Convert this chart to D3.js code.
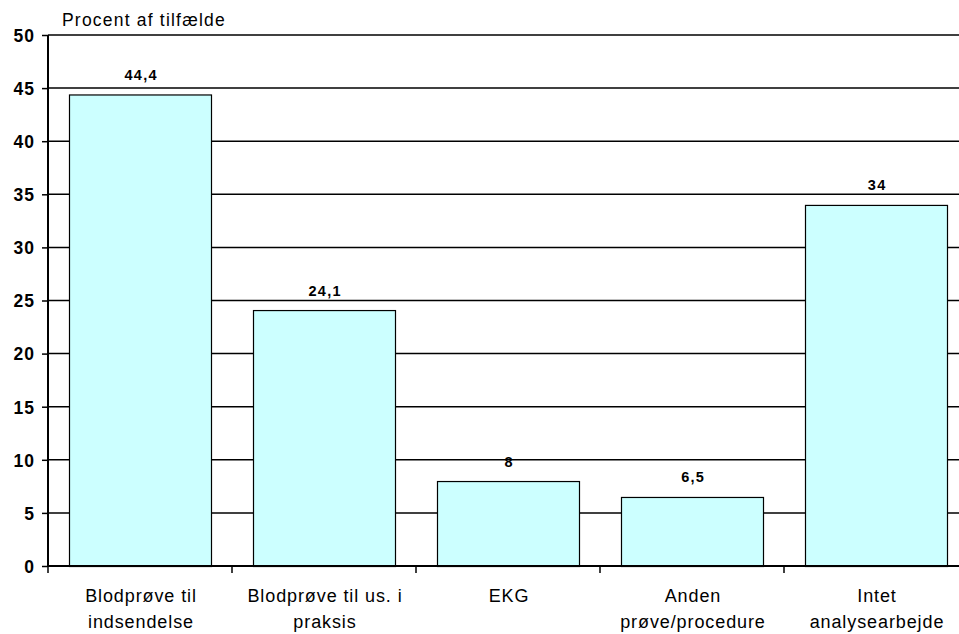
<!DOCTYPE html>
<html>
<head>
<meta charset="utf-8">
<script src="https://cdn.jsdelivr.net/npm/d3@7"></script>
<style>
  html, body { margin: 0; padding: 0; background: #fff; }
  svg { display: block; font-family: "Liberation Sans", Arial, sans-serif; }
</style>
</head>
<body>
<svg id="chart" width="959" height="634"></svg>
<script>
// Andel af tilfælde fordelt på type analysearbejde
const categories = [
  ["Blodprøve til", "indsendelse"],
  ["Blodprøve til us. i", "praksis"],
  ["EKG"],
  ["Anden", "prøve/procedure"],
  ["Intet", "analysearbejde"]
];
const values = [44.4, 24.1, 8, 6.5, 34];
const valueLabels = ["44,4", "24,1", "8", "6,5", "34"];
const yTicks = [0, 5, 10, 15, 20, 25, 30, 35, 40, 45, 50];
const yTitle = "Procent af tilfælde";

(function draw() {
  const svg = d3.select("#chart");
  const plotLeft = 48, plotTop = 35, plotBottom = 566, bandW = 184;
  const plotRight = plotLeft + bandW * categories.length;

  const x = d3.scaleBand()
    .domain(d3.range(categories.length))
    .range([plotLeft, plotRight])
    .paddingInner(42 / 184)
    .paddingOuter(21 / 184);

  const y = d3.scaleLinear().domain([0, 50]).range([plotBottom, plotTop]);

  // horizontal gridlines
  svg.append("g")
    .selectAll("line")
    .data(yTicks.filter(d => d > 0))
    .join("line")
    .attr("x1", plotLeft).attr("x2", plotRight)
    .attr("y1", d => y(d)).attr("y2", d => y(d))
    .attr("stroke", "#000").attr("stroke-width", 1.5);

  // bars
  svg.append("g")
    .selectAll("rect")
    .data(values)
    .join("rect")
    .attr("x", (d, i) => x(i) + 0.5)
    .attr("y", d => y(d) + 0.5)
    .attr("width", x.bandwidth())
    .attr("height", d => plotBottom - y(d))
    .attr("fill", "#CCFFFF")
    .attr("stroke", "#000")
    .attr("stroke-width", 1.2);

  // value labels
  svg.append("g")
    .selectAll("text")
    .data(values)
    .join("text")
    .attr("x", (d, i) => x(i) + x.bandwidth() / 2 + 1.2)
    .attr("y", d => y(d) - 14.5)
    .attr("text-anchor", "middle")
    .attr("font-size", 14.5)
    .attr("font-weight", "bold")
    .attr("letter-spacing", 1.3)
    .text((d, i) => valueLabels[i]);

  // y axis
  const yAxis = svg.append("g")
    .attr("transform", `translate(${plotLeft},0)`)
    .call(d3.axisLeft(y).tickValues(yTicks).tickSize(6).tickPadding(8).tickFormat(d3.format("d")));
  yAxis.select(".domain").attr("stroke", "#000").attr("stroke-width", 2).attr("d", `M0,${plotTop}V${plotBottom}`);
  yAxis.selectAll(".tick line").attr("stroke", "#000").attr("stroke-width", 1.5);
  yAxis.selectAll(".tick text")
    .attr("font-family", "Liberation Sans, Arial, sans-serif")
    .attr("font-size", 17.5).attr("font-weight", "bold").attr("fill", "#000")
    .attr("letter-spacing", 1)
    .attr("dx", 1)
    .attr("dy", "0.36em");

  // x axis
  const xTickPos = d3.range(categories.length + 1).map(i => plotLeft + i * bandW);
  svg.append("line")
    .attr("x1", plotLeft).attr("x2", plotRight)
    .attr("y1", plotBottom).attr("y2", plotBottom)
    .attr("stroke", "#000").attr("stroke-width", 2);
  svg.append("g")
    .selectAll("line")
    .data(xTickPos)
    .join("line")
    .attr("x1", d => d).attr("x2", d => d)
    .attr("y1", plotBottom).attr("y2", plotBottom + 7)
    .attr("stroke", "#000").attr("stroke-width", 1.5);

  // category labels
  const catG = svg.append("g")
    .selectAll("text")
    .data(categories)
    .join("text")
    .attr("text-anchor", "middle")
    .attr("font-size", 18)
    .attr("letter-spacing", 0.9)
    .attr("fill", "#000");
  catG.selectAll("tspan")
    .data((d, i) => d.map(line => ({ line, i })))
    .join("tspan")
    .attr("x", d => x(d.i) + x.bandwidth() / 2 + 1)
    .attr("y", (d, j) => 602 + j * 26)
    .text(d => d.line);

  // axis title
  svg.append("text")
    .attr("x", 62).attr("y", 26)
    .attr("font-size", 17.5)
    .attr("letter-spacing", 1.2)
    .attr("fill", "#000")
    .text(yTitle);
})();
</script>
</body>
</html>
